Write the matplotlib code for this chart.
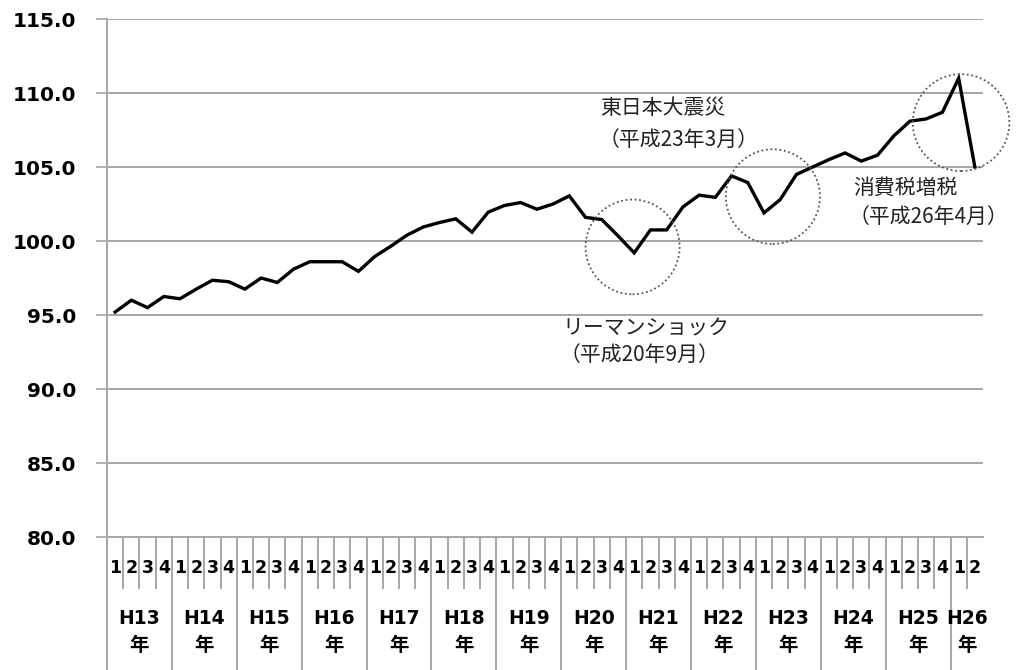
import matplotlib
matplotlib.use("Agg")
import matplotlib.pyplot as plt
from matplotlib.patches import Ellipse

plt.rcParams['font.family'] = ['DejaVu Sans', 'Noto Sans CJK JP']

# quarterly index, H13 Q1 .. H26 Q2
values = [95.2, 96.0, 95.5, 96.25, 96.1, 96.75, 97.35, 97.25, 96.75, 97.5,
          97.2, 98.1, 98.6, 98.6, 98.6, 97.95, 98.95, 99.65, 100.4, 100.95,
          101.25, 101.5, 100.6, 101.95, 102.4, 102.6, 102.15, 102.5, 103.05, 101.6,
          101.45, 100.35, 99.2, 100.75, 100.75, 102.3, 103.1, 102.95, 104.4, 103.95,
          101.9, 102.8, 104.5, 105.0, 105.5, 105.95, 105.4, 105.8, 107.1, 108.1,
          108.25, 108.7, 111.0, 105.0]
years = ["H13", "H14", "H15", "H16", "H17", "H18", "H19",
         "H20", "H21", "H22", "H23", "H24", "H25", "H26"]
quarters_per_year = [4] * 13 + [2]
yticks = [80, 85, 90, 95, 100, 105, 110, 115]

quarter_labels = []
for n in quarters_per_year:
    quarter_labels += [str(q + 1) for q in range(n)]
x = list(range(len(values)))

fig = plt.figure(figsize=(10.18, 6.70), dpi=100)
ax = fig.add_axes([0.1051, 0.1985, 0.8605, 0.7731])

grid_col = '#a6a6a6'
for v in yticks[1:]:
    ax.axhline(v, color=grid_col, lw=1.4, zorder=1)

ax.plot(x, values, color='black', lw=2.4, zorder=3, solid_joinstyle='miter')

ax.set_xlim(-0.5, len(values) - 0.5)
ax.set_ylim(80, 115)
ax.set_yticks(yticks)
ax.set_yticklabels([f"{v:.1f}" for v in yticks], fontsize=14.5, fontweight='bold')
ax.tick_params(axis='y', length=8, width=1.2, color=grid_col, pad=14)
ax.set_xticks([])

for s in ['top', 'right']:
    ax.spines[s].set_visible(False)
ax.spines['left'].set_color(grid_col)
ax.spines['left'].set_linewidth(1.4)
ax.spines['bottom'].set_color(grid_col)
ax.spines['bottom'].set_linewidth(1.4)

# multi-level category axis
tr = ax.get_xaxis_transform()
for i, lab in enumerate(quarter_labels):
    ax.text(i, -0.06, lab, transform=tr, ha='center', va='center',
            fontsize=12.5, fontweight='semibold')
start = 0
for yr, n in zip(years, quarters_per_year):
    ax.plot([start - 0.5, start - 0.5], [0, -0.26], transform=tr, color=grid_col,
            lw=1.4, clip_on=False)
    for k in range(1, n):
        ax.plot([start + k - 0.5] * 2, [0, -0.0985], transform=tr, color=grid_col,
                lw=1.4, clip_on=False)
    c = start + (n - 1) / 2
    ax.text(c, -0.157, yr, transform=tr, ha='center', va='center',
            fontsize=13.5, fontweight='bold')
    ax.text(c, -0.21, "年", transform=tr, ha='center', va='center',
            fontsize=14, fontweight='bold', family=['Noto Sans CJK JP'])
    start += n

# dotted circles around events
for cx, cy, w, h in [(31.9, 99.6, 5.8, 6.4), (40.55, 103.0, 5.8, 6.4), (52.15, 108.0, 5.95, 6.55)]:
    ax.add_patch(Ellipse((cx, cy), w, h, fill=False, ls=(0, (1, 1.5)),
                         lw=1.3, color='#555555', zorder=4, clip_on=False))

jp = dict(fontsize=15, family=['Noto Sans CJK JP'], ha='left', va='center', color='#222222')
ax.text(29.9, 109.0, "東日本大震災", **jp)
ax.text(29.8, 106.8, "（平成23年3月）", **jp)
ax.text(27.6, 94.1, "リーマンショック", **jp)
ax.text(27.4, 92.3, "（平成20年9月）", **jp)
ax.text(45.5, 103.6, "消費税増税", **jp)
ax.text(45.2, 101.6, "（平成26年4月）", **jp)

fig.savefig("out.png", dpi=100)
